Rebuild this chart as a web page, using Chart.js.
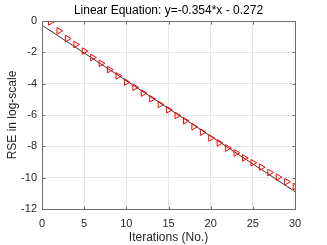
<!DOCTYPE html>
<html>
<head>
<meta charset="utf-8">
<script src="https://cdn.jsdelivr.net/npm/chart.js@4"></script>
<style>
  html, body { margin: 0; padding: 0; background: #fff; }
  #wrap { width: 327px; height: 245px; }
</style>
</head>
<body>
<div id="wrap"><canvas id="rseChart" width="327" height="245"></canvas></div>
<script>
// iterations and RSE (log-scale)
const iterations = [1, 2, 3, 4, 5, 6, 7, 8, 9, 10, 11, 12, 13, 14, 15,
  16, 17, 18, 19, 20, 21, 22, 23, 24, 25, 26, 27, 28, 29, 30];
const rseLog = [-0.05, -0.63, -1.12, -1.5, -1.92, -2.33, -2.7, -3.1, -3.5, -3.9,
  -4.23, -4.6, -4.97, -5.33, -5.67, -6.03, -6.37, -6.75, -7.1, -7.47,
  -7.78, -8.1, -8.42, -8.74, -9.05, -9.33, -9.67, -9.97, -10.26, -10.56];

// fitted line from the title
const fitSlope = -0.354;
const fitIntercept = -0.272;
const fitRange = [0, 30];

const xTicks = [0, 5, 10, 15, 20, 25, 30];
const yTicks = [0, -2, -4, -6, -8, -10, -12];

const chartTitle = "Linear Equation: y=-0.354*x - 0.272";
const axisColor = "#262626";
const fontFamily = "'Liberation Sans', Arial, sans-serif";

// Title centred over the plot, box round the plot, inward tick marks
const boxPlugin = {
  id: "box",
  afterDraw(chart) {
    const a = chart.chartArea;
    const c = chart.ctx;
    const L = Math.round(a.left) + 0.5, T = Math.round(a.top) + 0.5;
    const R = Math.round(a.right) + 0.5, B = Math.round(a.bottom) + 0.5;
    c.save();
    c.strokeStyle = "#6e6e6e";
    c.lineWidth = 1;
    c.strokeRect(L, T, R - L, B - T);
    c.beginPath();
    xTicks.forEach(v => {
      const px = Math.round(chart.scales.x.getPixelForValue(v)) + 0.5;
      c.moveTo(px, B); c.lineTo(px, B - 3);
      c.moveTo(px, T); c.lineTo(px, T + 3);
    });
    yTicks.forEach(v => {
      const py = Math.round(chart.scales.y.getPixelForValue(v)) + 0.5;
      c.moveTo(L, py); c.lineTo(L + 3, py);
      c.moveTo(R, py); c.lineTo(R - 3, py);
    });
    c.stroke();

    c.fillStyle = "#000";
    c.font = "12px " + fontFamily;
    c.textAlign = "center";
    c.textBaseline = "middle";
    c.fillText(chartTitle, (a.left + a.right) / 2, 11);
    c.restore();
  }
};

const ctx = document.getElementById("rseChart").getContext("2d");

new Chart(ctx, {
  type: "scatter",
  data: {
    datasets: [
      {
        label: "fit",
        data: fitRange.map(x => ({ x: x, y: fitSlope * x + fitIntercept })),
        showLine: true,
        borderColor: "#000",
        borderWidth: 0.8,
        pointRadius: 0,
        order: 2
      },
      {
        label: "RSE",
        data: iterations.map((x, i) => ({ x: x, y: rseLog[i] })),
        pointStyle: "triangle",
        rotation: 90,
        pointRadius: 3.8,
        borderColor: "#ff0000",
        borderWidth: 1,
        backgroundColor: "rgba(0,0,0,0)",
        order: 1
      }
    ]
  },
  options: {
    responsive: false,
    animation: false,
    layout: { padding: { left: 0, right: 32, top: 21, bottom: 0 } },
    plugins: {
      legend: { display: false },
      tooltip: { enabled: false },
      title: { display: false }
    },
    scales: {
      x: {
        type: "linear",
        min: 0,
        max: 30,
        afterBuildTicks: s => { s.ticks = xTicks.map(v => ({ value: v })); },
        afterFit: s => { s.height = 36; },
        grid: { color: "#e6e6e6", drawTicks: false },
        border: { display: false },
        ticks: { color: axisColor, padding: 8, font: { family: fontFamily, size: 11 } },
        title: {
          display: true,
          text: "Iterations (No.)",
          color: axisColor,
          font: { family: fontFamily, size: 12 },
          padding: { top: 2, bottom: 0 }
        }
      },
      y: {
        type: "linear",
        min: -12,
        max: 0,
        afterBuildTicks: s => { s.ticks = yTicks.map(v => ({ value: v })); },
        afterFit: s => { s.width = 42; },
        grid: { color: "#e6e6e6", drawTicks: false },
        border: { display: false },
        ticks: { color: axisColor, padding: 5, font: { family: fontFamily, size: 11 } },
        title: {
          display: true,
          text: "RSE in log-scale",
          color: axisColor,
          font: { family: fontFamily, size: 12 },
          padding: { top: 5, bottom: 0 }
        }
      }
    }
  },
  plugins: [boxPlugin]
});
</script>
</body>
</html>
